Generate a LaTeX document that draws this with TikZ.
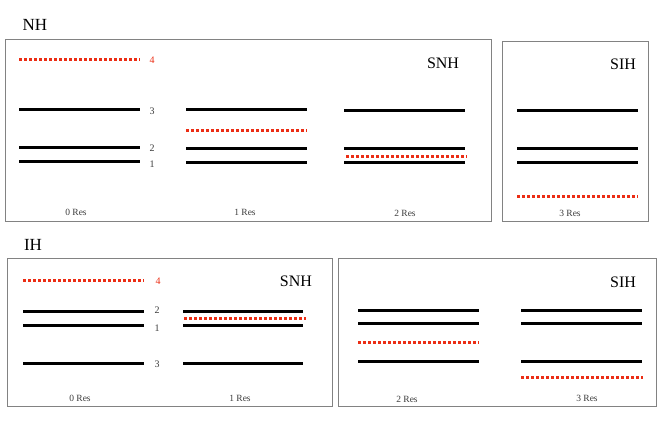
\documentclass[tikz,border=0pt]{standalone}
\usepackage{fontspec}
\setmainfont{Liberation Serif}
\definecolor{resred}{RGB}{235,45,20}
\definecolor{framegray}{RGB}{130,130,130}
\definecolor{labgray}{RGB}{60,60,60}
\tikzset{
  frame/.style={draw=framegray, line width=1pt},
  lev/.style={draw=black, line width=3pt},
  resl/.style={draw=resred, line width=3pt, dash pattern=on 2.6pt off 2.4pt},
  head/.style={font=\fontsize{17}{19}\selectfont, inner sep=0pt},
  tag/.style={font=\fontsize{16}{18}\selectfont, inner sep=0pt},
  num/.style={font=\fontsize{10}{11}\selectfont, text=labgray, inner sep=0pt},
  rnum/.style={num, text=resred},
  reslab/.style={font=\fontsize{9.5}{11}\selectfont, text=labgray, inner sep=0pt}
}
\begin{document}
\begin{tikzpicture}[x=1pt,y=-1pt]
\useasboundingbox (0,0) rectangle (664,427);
% ---------------- NH ----------------
\node[head] (nh) at (35,25) {NH};
\draw[frame] (5,40) rectangle (491,222);
\draw[frame] (502,42) rectangle (648,222);
\node[tag] (snh1) at (443,63) {SNH};
\node[tag] (sih1) at (623,64) {SIH};
% 0 Res
\draw[resl] (19,60) -- (140,60);
\draw[lev] (19,110) -- (140,110);
\draw[lev] (19,148) -- (140,148);
\draw[lev] (19,162) -- (140,162);
\node[rnum] (n4a) at (152,60) {4};
\node[num] (n3a) at (152,111) {3};
\node[num] (n2a) at (152,148) {2};
\node[num] (n1a) at (152,164) {1};
\node[reslab] (r0a) at (76,212) {0 Res};
% 1 Res
\draw[lev] (186,110) -- (307,110);
\draw[resl] (186,131) -- (307,131);
\draw[lev] (186,149) -- (307,149);
\draw[lev] (186,163) -- (307,163);
\node[reslab] (r1a) at (245,212) {1 Res};
% 2 Res
\draw[lev] (344,111) -- (465,111);
\draw[lev] (344,149) -- (465,149);
\draw[resl] (346,157) -- (467,157);
\draw[lev] (344,163) -- (465,163);
\node[reslab] (r2a) at (405,213) {2 Res};
% 3 Res
\draw[lev] (517,111) -- (638,111);
\draw[lev] (517,149) -- (638,149);
\draw[lev] (517,163) -- (638,163);
\draw[resl] (517,197) -- (638,197);
\node[reslab] (r3a) at (570,213) {3 Res};
% ---------------- IH ----------------
\node[head] (ih) at (33,245) {IH};
\draw[frame] (7,259) rectangle (332,407);
\draw[frame] (338,259) rectangle (656,407);
\node[tag] (snh2) at (296,281) {SNH};
\node[tag] (sih2) at (623,282) {SIH};
% 0 Res
\draw[resl] (23,281) -- (144,281);
\draw[lev] (23,312) -- (144,312);
\draw[lev] (23,326) -- (144,326);
\draw[lev] (23,364) -- (144,364);
\node[rnum] (n4b) at (158,281) {4};
\node[num] (n2b) at (157,310) {2};
\node[num] (n1b) at (157,328) {1};
\node[num] (n3b) at (157,364) {3};
\node[reslab] (r0b) at (80,398) {0 Res};
% 1 Res
\draw[lev] (183,312) -- (303,312);
\draw[resl] (184,319) -- (306,319);
\draw[lev] (183,326) -- (303,326);
\draw[lev] (183,364) -- (303,364);
\node[reslab] (r1b) at (240,398) {1 Res};
% 2 Res
\draw[lev] (358,311) -- (479,311);
\draw[lev] (358,324) -- (479,324);
\draw[resl] (358,343) -- (479,343);
\draw[lev] (358,362) -- (479,362);
\node[reslab] (r2b) at (407,399) {2 Res};
% 3 Res
\draw[lev] (521,311) -- (642,311);
\draw[lev] (521,324) -- (642,324);
\draw[lev] (521,362) -- (642,362);
\draw[resl] (521,378) -- (643,378);
\node[reslab] (r3b) at (587,398) {3 Res};
\end{tikzpicture}
\end{document}
